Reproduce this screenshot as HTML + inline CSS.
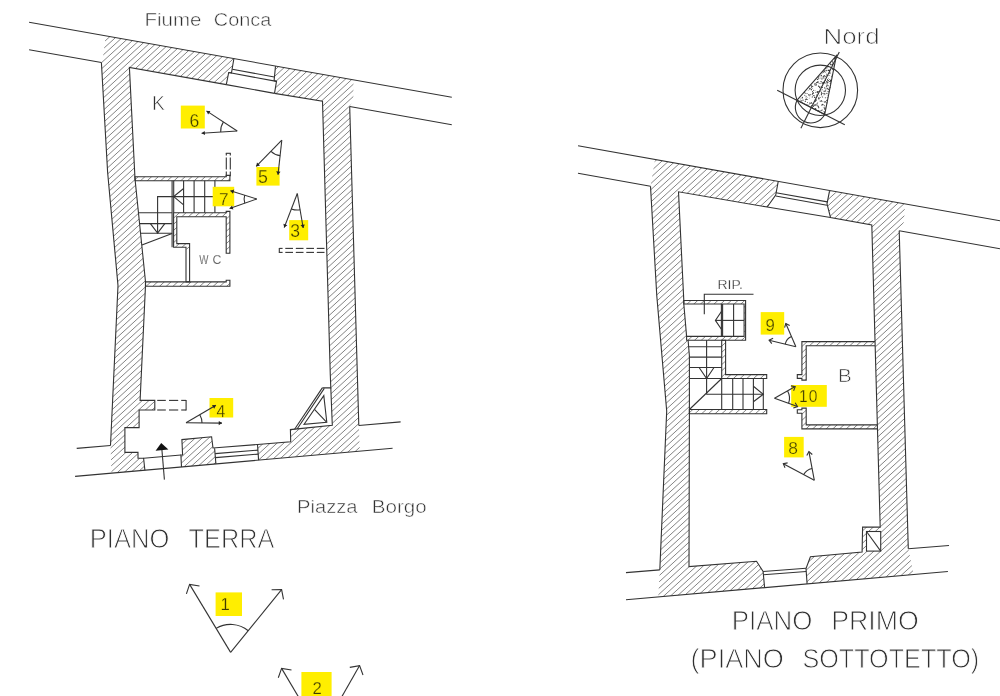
<!DOCTYPE html>
<html lang="it"><head><meta charset="utf-8"><title>Piano Terra / Piano Primo</title>
<style>
html,body{margin:0;padding:0;background:#fff;}
body{width:1000px;height:696px;overflow:hidden;}
svg{display:block;will-change:transform;font-family:"Liberation Sans",sans-serif;}
svg line,svg polyline,svg polygon,svg path{stroke-linecap:butt;stroke-linejoin:miter;}
</style></head><body>
<svg width="1000" height="696" viewBox="0 0 1000 696">
<rect width="1000" height="696" fill="#fff"/>
<clipPath id="c1"><polygon points="105.7,35.9 233.9,58.5 231.5,72.9 228.7,72.5 226.3,84.6 129.4,67.4 134.9,176.7 135.2,180.7 145.5,281.7 145.5,285.6 140.1,400.4 154.8,400.4 154.8,410.0 139.1,410.0 139.1,427.6 124.9,427.6 124.9,452.4 138.0,452.4 138.0,458.3 143.6,458.3 144.9,470.2 111.5,473.2 110.5,445.5 118.0,285.6 107.6,172.0 101.4,62.5 103.0,57.0"/></clipPath>
<path clip-path="url(#c1)" d="M100.40,39.11L105.00,34.90M100.40,45.26L111.72,34.90M100.40,51.41L118.43,34.90M100.40,57.56L125.14,34.90M100.40,63.71L131.86,34.90M100.40,69.86L138.57,34.90M100.40,76.01L145.29,34.90M100.40,82.16L152.00,34.90M100.40,88.31L158.71,34.90M100.40,94.46L165.43,34.90M100.40,100.61L172.14,34.90M100.40,106.76L178.86,34.90M100.40,112.91L185.57,34.90M100.40,119.06L192.28,34.90M100.40,125.21L199.00,34.90M100.40,131.36L205.71,34.90M100.40,137.51L212.43,34.90M100.40,143.66L219.14,34.90M100.40,149.81L225.85,34.90M100.40,155.96L232.57,34.90M100.40,162.11L234.90,38.91M100.40,168.26L234.90,45.06M100.40,174.41L234.90,51.21M100.40,180.56L234.90,57.36M100.40,186.71L234.90,63.51M100.40,192.86L234.90,69.66M100.40,199.01L234.90,75.81M100.40,205.16L234.90,81.96M100.40,211.31L234.90,88.11M100.40,217.46L234.90,94.26M100.40,223.61L234.90,100.41M100.40,229.76L234.90,106.56M100.40,235.91L234.90,112.71M100.40,242.06L234.90,118.86M100.40,248.21L234.90,125.01M100.40,254.36L234.90,131.16M100.40,260.51L234.90,137.31M100.40,266.66L234.90,143.46M100.40,272.81L234.90,149.61M100.40,278.96L234.90,155.76M100.40,285.11L234.90,161.91M100.40,291.26L234.90,168.06M100.40,297.41L234.90,174.21M100.40,303.56L234.90,180.36M100.40,309.71L234.90,186.51M100.40,315.86L234.90,192.66M100.40,322.01L234.90,198.81M100.40,328.16L234.90,204.96M100.40,334.31L234.90,211.11M100.40,340.46L234.90,217.26M100.40,346.61L234.90,223.41M100.40,352.76L234.90,229.56M100.40,358.91L234.90,235.71M100.40,365.06L234.90,241.86M100.40,371.21L234.90,248.01M100.40,377.36L234.90,254.16M100.40,383.51L234.90,260.31M100.40,389.66L234.90,266.46M100.40,395.81L234.90,272.61M100.40,401.96L234.90,278.76M100.40,408.11L234.90,284.91M100.40,414.26L234.90,291.06M100.40,420.41L234.90,297.21M100.40,426.56L234.90,303.36M100.40,432.71L234.90,309.51M100.40,438.86L234.90,315.66M100.40,445.01L234.90,321.81M100.40,451.16L234.90,327.96M100.40,457.31L234.90,334.11M100.40,463.46L234.90,340.26M100.40,469.61L234.90,346.41M102.14,474.17L234.90,352.56M108.86,474.17L234.90,358.71M115.57,474.17L234.90,364.86M122.28,474.17L234.90,371.01M129.00,474.17L234.90,377.16M135.71,474.17L234.90,383.31M142.43,474.17L234.90,389.46M149.14,474.17L234.90,395.61M155.85,474.17L234.90,401.76M162.57,474.17L234.90,407.91M169.28,474.17L234.90,414.06M176.00,474.17L234.90,420.21M182.71,474.17L234.90,426.36M189.42,474.17L234.90,432.51M196.14,474.17L234.90,438.66M202.85,474.17L234.90,444.81M209.57,474.17L234.90,450.96M216.28,474.17L234.90,457.11M222.99,474.17L234.90,463.26M229.71,474.17L234.90,469.41" fill="none" stroke="#6e6e6e" stroke-width="0.85"/>
<clipPath id="c2"><polygon points="275.5,66.1 353.5,79.9 353.3,100.0 349.7,106.5 358.8,425.5 359.8,451.1 258.6,460.1 257.5,444.5 290.7,441.7 290.4,429.6 332.3,425.3 330.8,387.9 330.3,375.0 322.5,101.2 274.5,93.4 276.5,81.4 274.1,80.6"/></clipPath>
<path clip-path="url(#c2)" d="M256.50,68.33L260.02,65.10M256.50,74.48L266.74,65.10M256.50,80.63L273.45,65.10M256.50,86.78L280.16,65.10M256.50,92.93L286.88,65.10M256.50,99.08L293.59,65.10M256.50,105.23L300.31,65.10M256.50,111.38L307.02,65.10M256.50,117.53L313.73,65.10M256.50,123.68L320.45,65.10M256.50,129.83L327.16,65.10M256.50,135.98L333.88,65.10M256.50,142.13L340.59,65.10M256.50,148.28L347.30,65.10M256.50,154.43L354.02,65.10M256.50,160.58L360.73,65.10M256.50,166.73L360.80,71.19M256.50,172.88L360.80,77.34M256.50,179.03L360.80,83.49M256.50,185.18L360.80,89.64M256.50,191.33L360.80,95.79M256.50,197.48L360.80,101.94M256.50,203.63L360.80,108.09M256.50,209.78L360.80,114.24M256.50,215.93L360.80,120.39M256.50,222.08L360.80,126.54M256.50,228.23L360.80,132.69M256.50,234.38L360.80,138.84M256.50,240.53L360.80,144.99M256.50,246.68L360.80,151.14M256.50,252.83L360.80,157.29M256.50,258.98L360.80,163.44M256.50,265.13L360.80,169.59M256.50,271.28L360.80,175.74M256.50,277.43L360.80,181.89M256.50,283.58L360.80,188.04M256.50,289.73L360.80,194.19M256.50,295.88L360.80,200.34M256.50,302.03L360.80,206.49M256.50,308.18L360.80,212.64M256.50,314.33L360.80,218.79M256.50,320.48L360.80,224.94M256.50,326.63L360.80,231.09M256.50,332.78L360.80,237.24M256.50,338.93L360.80,243.39M256.50,345.08L360.80,249.54M256.50,351.23L360.80,255.69M256.50,357.38L360.80,261.84M256.50,363.53L360.80,267.99M256.50,369.68L360.80,274.14M256.50,375.83L360.80,280.29M256.50,381.98L360.80,286.44M256.50,388.13L360.80,292.59M256.50,394.28L360.80,298.74M256.50,400.43L360.80,304.89M256.50,406.58L360.80,311.04M256.50,412.73L360.80,317.19M256.50,418.88L360.80,323.34M256.50,425.03L360.80,329.49M256.50,431.18L360.80,335.64M256.50,437.33L360.80,341.79M256.50,443.48L360.80,347.94M256.50,449.63L360.80,354.09M256.50,455.78L360.80,360.24M257.40,461.11L360.80,366.39M264.11,461.11L360.80,372.54M270.82,461.11L360.80,378.69M277.54,461.11L360.80,384.84M284.25,461.11L360.80,390.99M290.97,461.11L360.80,397.14M297.68,461.11L360.80,403.29M304.39,461.11L360.80,409.44M311.11,461.11L360.80,415.59M317.82,461.11L360.80,421.74M324.54,461.11L360.80,427.89M331.25,461.11L360.80,434.04M337.96,461.11L360.80,440.19M344.68,461.11L360.80,446.34M351.39,461.11L360.80,452.49M358.11,461.11L360.80,458.64" fill="none" stroke="#6e6e6e" stroke-width="0.85"/>
<clipPath id="c3"><polygon points="181.9,439.6 211.6,436.8 213.0,448.0 214.6,448.0 215.9,463.9 181.5,467.0 180.9,455.0 182.6,455.0"/></clipPath>
<path clip-path="url(#c3)" d="M179.90,439.84L184.31,435.80M179.90,445.99L191.03,435.80M179.90,452.14L197.74,435.80M179.90,458.29L204.45,435.80M179.90,464.44L211.17,435.80M182.78,467.95L216.90,436.70M189.50,467.95L216.90,442.85M196.21,467.95L216.90,449.00M202.92,467.95L216.90,455.15M209.64,467.95L216.90,461.30M216.35,467.95L216.90,467.45" fill="none" stroke="#6e6e6e" stroke-width="0.85"/>
<clipPath id="c4"><polygon points="134.9,176.7 226.2,176.7 226.2,175.4 229.9,175.4 229.9,180.8 135.2,180.8"/></clipPath>
<path clip-path="url(#c4)" d="M133.90,174.48L133.98,174.40M133.90,180.63L140.70,174.40M139.33,181.80L147.41,174.40M146.05,181.80L154.13,174.40M152.76,181.80L160.84,174.40M159.48,181.80L167.55,174.40M166.19,181.80L174.27,174.40M172.90,181.80L180.98,174.40M179.62,181.80L187.70,174.40M186.33,181.80L194.41,174.40M193.05,181.80L201.12,174.40M199.76,181.80L207.84,174.40M206.47,181.80L214.55,174.40M213.19,181.80L221.27,174.40M219.90,181.80L227.98,174.40M226.62,181.80L230.90,177.88" fill="none" stroke="#6e6e6e" stroke-width="0.85"/>
<clipPath id="c5"><polygon points="145.5,281.9 226.2,281.9 226.2,280.3 229.9,280.3 229.9,286.2 145.5,286.2"/></clipPath>
<path clip-path="url(#c5)" d="M144.50,281.62L147.03,279.30M145.12,287.20L153.74,279.30M151.83,287.20L160.46,279.30M158.55,287.20L167.17,279.30M165.26,287.20L173.89,279.30M171.98,287.20L180.60,279.30M178.69,287.20L187.31,279.30M185.40,287.20L194.03,279.30M192.12,287.20L200.74,279.30M198.83,287.20L207.46,279.30M205.55,287.20L214.17,279.30M212.26,287.20L220.88,279.30M218.97,287.20L227.60,279.30M225.69,287.20L230.90,282.43" fill="none" stroke="#6e6e6e" stroke-width="0.85"/>
<clipPath id="c6"><polygon points="173.6,212.7 226.2,212.7 226.2,211.4 229.9,211.4 229.9,253.3 226.2,253.3 226.2,216.7 176.8,216.7 176.8,243.6 189.6,243.6 189.6,249.5 186.0,249.5 186.0,247.3 173.6,247.3"/></clipPath>
<path clip-path="url(#c6)" d="M172.60,212.83L175.25,210.40M172.60,218.98L181.97,210.40M172.60,225.13L188.68,210.40M172.60,231.28L195.39,210.40M172.60,237.43L202.11,210.40M172.60,243.58L208.82,210.40M172.60,249.73L215.53,210.40M174.32,254.30L222.25,210.40M181.04,254.30L228.96,210.40M187.75,254.30L230.90,214.78M194.47,254.30L230.90,220.93M201.18,254.30L230.90,227.08M207.89,254.30L230.90,233.23M214.61,254.30L230.90,239.38M221.32,254.30L230.90,245.53M228.03,254.30L230.90,251.68" fill="none" stroke="#6e6e6e" stroke-width="0.85"/>
<line x1="29.1" y1="22.3" x2="451.8" y2="97.3" stroke="#333333" stroke-width="1.1" />
<line x1="29.1" y1="49.7" x2="101.4" y2="62.5" stroke="#333333" stroke-width="1.1" />
<line x1="349.7" y1="106.5" x2="451.8" y2="124.8" stroke="#333333" stroke-width="1.1" />
<line x1="75.1" y1="476.4" x2="392.6" y2="448.2" stroke="#333333" stroke-width="1.1" />
<line x1="110.5" y1="445.5" x2="76.7" y2="448.4" stroke="#333333" stroke-width="1.1" />
<line x1="358.8" y1="425.5" x2="400.6" y2="421.9" stroke="#333333" stroke-width="1.1" />
<polyline points="101.4,62.5 107.6,172.0 118.0,285.6 110.5,445.5" fill="none" stroke="#333333" stroke-width="1.1" />
<polyline points="349.7,106.5 358.8,425.5" fill="none" stroke="#333333" stroke-width="1.1" />
<polyline points="226.3,84.6 129.4,67.4 134.9,176.7 135.2,180.7 145.5,281.7 145.5,285.6 140.1,400.4 154.8,400.4 154.8,410.0 139.1,410.0 139.1,427.6 124.9,427.6 124.9,452.4 138.0,452.4 138.0,458.3 143.6,458.3 144.9,470.2" fill="none" stroke="#333333" stroke-width="1.1" />
<line x1="143.6" y1="458.3" x2="180.9" y2="455.0" stroke="#333333" stroke-width="1.1" />
<polyline points="181.5,467.0 180.9,455.0 182.6,455.0 181.9,439.6 211.6,436.8 213.0,448.0 257.5,444.5 290.7,441.7 290.4,429.6 332.3,425.3 330.8,387.9" fill="none" stroke="#333333" stroke-width="1.1" />
<polyline points="322.3,387.9 330.8,387.9 330.3,375.0 322.5,101.2 274.5,93.4" fill="none" stroke="#333333" stroke-width="1.1" />
<polyline points="233.9,58.5 231.5,72.9 228.7,72.5 226.3,84.6" fill="none" stroke="#333333" stroke-width="1.1" />
<polyline points="275.5,66.1 274.1,80.6 276.5,81.4 274.5,93.4" fill="none" stroke="#333333" stroke-width="1.1" />
<line x1="232.3" y1="69.3" x2="274.3" y2="77.0" stroke="#333333" stroke-width="1.1" />
<line x1="228.7" y1="72.5" x2="276.5" y2="81.4" stroke="#333333" stroke-width="1.1" />
<line x1="226.3" y1="84.6" x2="274.5" y2="93.4" stroke="#333333" stroke-width="1.1" />
<line x1="214.6" y1="448.3" x2="215.9" y2="463.9" stroke="#333333" stroke-width="1.1" />
<line x1="257.5" y1="444.5" x2="258.6" y2="460.1" stroke="#333333" stroke-width="1.1" />
<line x1="215.2" y1="453.6" x2="258.0" y2="450.1" stroke="#333333" stroke-width="1.1" />
<line x1="215.5" y1="457.6" x2="258.3" y2="454.1" stroke="#333333" stroke-width="1.1" />
<line x1="322.3" y1="387.9" x2="294.6" y2="429.3" stroke="#333333" stroke-width="1.1" />
<line x1="324.3" y1="388.4" x2="297.1" y2="429.0" stroke="#333333" stroke-width="1.1" />
<polygon points="323.8,395.6 304.1,424.3 326.8,422.3" fill="none" stroke="#333333" stroke-width="1.1" />
<line x1="314.7" y1="409.7" x2="326.5" y2="422.1" stroke="#333333" stroke-width="1.1" />
<polygon points="134.9,176.7 226.2,176.7 226.2,175.4 229.9,175.4 229.9,180.8 135.2,180.8" fill="none" stroke="#333333" stroke-width="1.1" />
<polygon points="145.5,281.9 226.2,281.9 226.2,280.3 229.9,280.3 229.9,286.2 145.5,286.2" fill="none" stroke="#333333" stroke-width="1.1" />
<polygon points="173.6,212.7 226.2,212.7 226.2,211.4 229.9,211.4 229.9,253.3 226.2,253.3 226.2,216.7 176.8,216.7 176.8,243.6 189.6,243.6 189.6,281.9 186.0,281.9 186.0,247.3 173.6,247.3" fill="none" stroke="#333333" stroke-width="1.1" />
<line x1="226.3" y1="153.3" x2="226.3" y2="155.6" stroke="#333333" stroke-width="1.1" />
<line x1="226.3" y1="157.6" x2="226.3" y2="169.6" stroke="#333333" stroke-width="1.1" />
<line x1="226.3" y1="171.6" x2="226.3" y2="176.2" stroke="#333333" stroke-width="1.1" />
<line x1="230.3" y1="153.3" x2="230.3" y2="155.6" stroke="#333333" stroke-width="1.1" />
<line x1="230.3" y1="157.6" x2="230.3" y2="169.6" stroke="#333333" stroke-width="1.1" />
<line x1="230.3" y1="171.6" x2="230.3" y2="176.2" stroke="#333333" stroke-width="1.1" />
<line x1="225.8" y1="153.3" x2="230.8" y2="153.3" stroke="#333333" stroke-width="1.1" />
<line x1="279.3" y1="248.4" x2="282.6" y2="248.4" stroke="#333333" stroke-width="1.1" />
<line x1="285.3" y1="248.4" x2="293.0" y2="248.4" stroke="#333333" stroke-width="1.1" />
<line x1="295.8" y1="248.4" x2="303.5" y2="248.4" stroke="#333333" stroke-width="1.1" />
<line x1="306.3" y1="248.4" x2="314.0" y2="248.4" stroke="#333333" stroke-width="1.1" />
<line x1="316.8" y1="248.4" x2="324.5" y2="248.4" stroke="#333333" stroke-width="1.1" />
<line x1="279.3" y1="252.4" x2="282.6" y2="252.4" stroke="#333333" stroke-width="1.1" />
<line x1="285.3" y1="252.4" x2="293.0" y2="252.4" stroke="#333333" stroke-width="1.1" />
<line x1="295.8" y1="252.4" x2="303.5" y2="252.4" stroke="#333333" stroke-width="1.1" />
<line x1="306.3" y1="252.4" x2="314.0" y2="252.4" stroke="#333333" stroke-width="1.1" />
<line x1="316.8" y1="252.4" x2="324.5" y2="252.4" stroke="#333333" stroke-width="1.1" />
<line x1="279.3" y1="247.9" x2="279.3" y2="252.9" stroke="#333333" stroke-width="1.1" />
<line x1="157.2" y1="400.4" x2="165.8" y2="400.4" stroke="#333333" stroke-width="1.1" />
<line x1="169.0" y1="400.4" x2="178.2" y2="400.4" stroke="#333333" stroke-width="1.1" />
<line x1="181.2" y1="400.4" x2="186.1" y2="400.4" stroke="#333333" stroke-width="1.1" />
<line x1="157.2" y1="410.0" x2="165.8" y2="410.0" stroke="#333333" stroke-width="1.1" />
<line x1="169.0" y1="410.0" x2="178.2" y2="410.0" stroke="#333333" stroke-width="1.1" />
<line x1="181.2" y1="410.0" x2="186.1" y2="410.0" stroke="#333333" stroke-width="1.1" />
<line x1="186.1" y1="399.9" x2="186.1" y2="410.5" stroke="#333333" stroke-width="1.1" />
<line x1="172.1" y1="180.8" x2="172.1" y2="247.3" stroke="#333333" stroke-width="1.1" />
<line x1="173.7" y1="180.8" x2="173.7" y2="212.7" stroke="#333333" stroke-width="1.1" />
<line x1="183.6" y1="180.8" x2="183.6" y2="212.7" stroke="#333333" stroke-width="1.1" />
<line x1="194.1" y1="180.8" x2="194.1" y2="212.7" stroke="#333333" stroke-width="1.1" />
<line x1="204.7" y1="180.8" x2="204.7" y2="212.7" stroke="#333333" stroke-width="1.1" />
<line x1="214.9" y1="180.8" x2="214.9" y2="212.7" stroke="#333333" stroke-width="1.1" />
<line x1="138.7" y1="212.7" x2="172.1" y2="212.7" stroke="#333333" stroke-width="1.1" />
<line x1="139.8" y1="223.6" x2="172.1" y2="223.6" stroke="#333333" stroke-width="1.1" />
<line x1="140.8" y1="233.2" x2="172.1" y2="233.2" stroke="#333333" stroke-width="1.1" />
<line x1="141.9" y1="245.0" x2="172.1" y2="233.5" stroke="#333333" stroke-width="1.1" />
<polyline points="214.9,196.6 157.6,196.6 157.6,233.2" fill="none" stroke="#333333" stroke-width="1.1" />
<polyline points="183.6,188.5 173.7,196.6 183.6,204.8" fill="none" stroke="#333333" stroke-width="1.1" />
<polyline points="150.4,223.6 157.6,233.2 164.8,223.6" fill="none" stroke="#333333" stroke-width="1.1" />
<line x1="164.4" y1="479.6" x2="161.6" y2="446.0" stroke="#333333" stroke-width="1.1" />
<polygon points="161.2,443.1 155.6,450.8 168.4,449.5" fill="#111"/>
<clipPath id="c7"><polygon points="655.0,159.4 778.2,181.7 775.7,195.0 767.2,207.0 678.5,191.8 683.8,300.5 683.8,304.0 686.6,336.4 686.6,340.3 688.1,340.3 689.4,355.9 689.4,409.5 689.4,413.8 689.0,566.6 756.5,561.2 763.1,571.5 764.6,587.6 658.3,597.0 659.8,569.9 666.7,411.0 656.8,296.0 650.5,186.3"/></clipPath>
<path clip-path="url(#c7)" d="M649.50,160.16L651.38,158.43M649.50,166.31L658.10,158.43M649.50,172.46L664.81,158.43M649.50,178.61L671.53,158.43M649.50,184.76L678.24,158.43M649.50,190.91L684.95,158.43M649.50,197.06L691.67,158.43M649.50,203.21L698.38,158.43M649.50,209.36L705.10,158.43M649.50,215.51L711.81,158.43M649.50,221.66L718.52,158.43M649.50,227.81L725.24,158.43M649.50,233.96L731.95,158.43M649.50,240.11L738.66,158.43M649.50,246.26L745.38,158.43M649.50,252.41L752.09,158.43M649.50,258.56L758.81,158.43M649.50,264.71L765.52,158.43M649.50,270.86L772.23,158.43M649.50,277.01L778.95,158.43M649.50,283.16L779.20,164.35M649.50,289.31L779.20,170.50M649.50,295.46L779.20,176.65M649.50,301.61L779.20,182.80M649.50,307.76L779.20,188.95M649.50,313.91L779.20,195.10M649.50,320.06L779.20,201.25M649.50,326.21L779.20,207.40M649.50,332.36L779.20,213.55M649.50,338.51L779.20,219.70M649.50,344.66L779.20,225.85M649.50,350.81L779.20,232.00M649.50,356.96L779.20,238.15M649.50,363.11L779.20,244.30M649.50,369.26L779.20,250.45M649.50,375.41L779.20,256.60M649.50,381.56L779.20,262.75M649.50,387.71L779.20,268.90M649.50,393.86L779.20,275.05M649.50,400.01L779.20,281.20M649.50,406.16L779.20,287.35M649.50,412.31L779.20,293.50M649.50,418.46L779.20,299.65M649.50,424.61L779.20,305.80M649.50,430.76L779.20,311.95M649.50,436.91L779.20,318.10M649.50,443.06L779.20,324.25M649.50,449.21L779.20,330.40M649.50,455.36L779.20,336.55M649.50,461.51L779.20,342.70M649.50,467.66L779.20,348.85M649.50,473.81L779.20,355.00M649.50,479.96L779.20,361.15M649.50,486.11L779.20,367.30M649.50,492.26L779.20,373.45M649.50,498.41L779.20,379.60M649.50,504.56L779.20,385.75M649.50,510.71L779.20,391.90M649.50,516.86L779.20,398.05M649.50,523.01L779.20,404.20M649.50,529.16L779.20,410.35M649.50,535.31L779.20,416.50M649.50,541.46L779.20,422.65M649.50,547.61L779.20,428.80M649.50,553.76L779.20,434.95M649.50,559.91L779.20,441.10M649.50,566.06L779.20,447.25M649.50,572.21L779.20,453.40M649.50,578.36L779.20,459.55M649.50,584.51L779.20,465.70M649.50,590.66L779.20,471.85M649.50,596.81L779.20,478.00M654.96,597.96L779.20,484.15M661.67,597.96L779.20,490.30M668.38,597.96L779.20,496.45M675.10,597.96L779.20,502.60M681.81,597.96L779.20,508.75M688.53,597.96L779.20,514.90M695.24,597.96L779.20,521.05M701.95,597.96L779.20,527.20M708.67,597.96L779.20,533.35M715.38,597.96L779.20,539.50M722.10,597.96L779.20,545.65M728.81,597.96L779.20,551.80M735.52,597.96L779.20,557.95M742.24,597.96L779.20,564.10M748.95,597.96L779.20,570.25M755.67,597.96L779.20,576.40M762.38,597.96L779.20,582.55M769.09,597.96L779.20,588.70M775.81,597.96L779.20,594.85" fill="none" stroke="#6e6e6e" stroke-width="0.85"/>
<clipPath id="c8"><polygon points="829.5,191.2 905.0,203.9 904.0,222.0 899.2,230.8 908.3,548.8 913.8,574.5 807.1,583.9 806.0,568.6 810.4,556.8 862.1,552.1 862.6,527.1 880.2,527.1 871.8,225.0 830.5,217.5 827.0,203.8"/></clipPath>
<path clip-path="url(#c8)" d="M805.00,196.07L811.35,190.25M805.00,202.22L818.07,190.25M805.00,208.37L824.78,190.25M805.00,214.52L831.50,190.25M805.00,220.67L838.21,190.25M805.00,226.82L844.92,190.25M805.00,232.97L851.64,190.25M805.00,239.12L858.35,190.25M805.00,245.27L865.07,190.25M805.00,251.42L871.78,190.25M805.00,257.57L878.49,190.25M805.00,263.72L885.21,190.25M805.00,269.87L891.92,190.25M805.00,276.02L898.64,190.25M805.00,282.17L905.35,190.25M805.00,288.32L912.06,190.25M805.00,294.47L914.80,193.89M805.00,300.62L914.80,200.04M805.00,306.77L914.80,206.19M805.00,312.92L914.80,212.34M805.00,319.07L914.80,218.49M805.00,325.22L914.80,224.64M805.00,331.37L914.80,230.79M805.00,337.52L914.80,236.94M805.00,343.67L914.80,243.09M805.00,349.82L914.80,249.24M805.00,355.97L914.80,255.39M805.00,362.12L914.80,261.54M805.00,368.27L914.80,267.69M805.00,374.42L914.80,273.84M805.00,380.57L914.80,279.99M805.00,386.72L914.80,286.14M805.00,392.87L914.80,292.29M805.00,399.02L914.80,298.44M805.00,405.17L914.80,304.59M805.00,411.32L914.80,310.74M805.00,417.47L914.80,316.89M805.00,423.62L914.80,323.04M805.00,429.77L914.80,329.19M805.00,435.92L914.80,335.34M805.00,442.07L914.80,341.49M805.00,448.22L914.80,347.64M805.00,454.37L914.80,353.79M805.00,460.52L914.80,359.94M805.00,466.67L914.80,366.09M805.00,472.82L914.80,372.24M805.00,478.97L914.80,378.39M805.00,485.12L914.80,384.54M805.00,491.27L914.80,390.69M805.00,497.42L914.80,396.84M805.00,503.57L914.80,402.99M805.00,509.72L914.80,409.14M805.00,515.87L914.80,415.29M805.00,522.02L914.80,421.44M805.00,528.17L914.80,427.59M805.00,534.32L914.80,433.74M805.00,540.47L914.80,439.89M805.00,546.62L914.80,446.04M805.00,552.77L914.80,452.19M805.00,558.92L914.80,458.34M805.00,565.07L914.80,464.49M805.00,571.22L914.80,470.64M805.00,577.37L914.80,476.79M805.00,583.52L914.80,482.94M810.23,584.88L914.80,489.09M816.94,584.88L914.80,495.24M823.66,584.88L914.80,501.39M830.37,584.88L914.80,507.54M837.08,584.88L914.80,513.69M843.80,584.88L914.80,519.84M850.51,584.88L914.80,525.99M857.23,584.88L914.80,532.14M863.94,584.88L914.80,538.29M870.65,584.88L914.80,544.44M877.37,584.88L914.80,550.59M884.08,584.88L914.80,556.74M890.80,584.88L914.80,562.89M897.51,584.88L914.80,569.04M904.22,584.88L914.80,575.19M910.94,584.88L914.80,581.34" fill="none" stroke="#6e6e6e" stroke-width="0.85"/>
<rect x="866.5" y="531.5" width="14.2" height="19.6" fill="#fff" stroke="#333333" stroke-width="1.1"/>
<line x1="866.5" y1="531.5" x2="880.7" y2="551.1" stroke="#333333" stroke-width="1.1" />
<clipPath id="c9"><polygon points="683.8,300.5 745.6,300.5 745.6,340.3 686.6,340.3 686.6,336.4 744.1,336.4 744.1,304.0 683.8,304.0"/></clipPath>
<path clip-path="url(#c9)" d="M682.80,301.86L685.37,299.50M682.80,308.01L692.09,299.50M682.80,314.16L698.80,299.50M682.80,320.31L705.51,299.50M682.80,326.46L712.23,299.50M682.80,332.61L718.94,299.50M682.80,338.76L725.66,299.50M686.74,341.30L732.37,299.50M693.45,341.30L739.08,299.50M700.16,341.30L745.80,299.50M706.88,341.30L746.60,304.91M713.59,341.30L746.60,311.06M720.31,341.30L746.60,317.21M727.02,341.30L746.60,323.36M733.73,341.30L746.60,329.51M740.45,341.30L746.60,335.66" fill="none" stroke="#6e6e6e" stroke-width="0.85"/>
<clipPath id="c10"><polygon points="721.7,340.3 725.6,340.3 725.6,374.6 766.7,374.6 766.7,378.5 721.7,378.5"/></clipPath>
<path clip-path="url(#c10)" d="M720.70,340.94L722.49,339.30M720.70,347.09L729.20,339.30M720.70,353.24L735.92,339.30M720.70,359.39L742.63,339.30M720.70,365.54L749.34,339.30M720.70,371.69L756.06,339.30M720.70,377.84L762.77,339.30M725.60,379.50L767.70,340.94M732.31,379.50L767.70,347.09M739.03,379.50L767.70,353.24M745.74,379.50L767.70,359.39M752.46,379.50L767.70,365.54M759.17,379.50L767.70,371.69M765.88,379.50L767.70,377.84" fill="none" stroke="#6e6e6e" stroke-width="0.85"/>
<clipPath id="c11"><polygon points="689.4,409.5 766.7,409.5 766.7,413.8 689.4,413.8"/></clipPath>
<path clip-path="url(#c11)" d="M688.40,413.58L693.94,408.50M693.78,414.80L700.66,408.50M700.49,414.80L707.37,408.50M707.21,414.80L714.08,408.50M713.92,414.80L720.80,408.50M720.63,414.80L727.51,408.50M727.35,414.80L734.22,408.50M734.06,414.80L740.94,408.50M740.78,414.80L747.65,408.50M747.49,414.80L754.37,408.50M754.20,414.80L761.08,408.50M760.92,414.80L767.70,408.59M767.63,414.80L767.70,414.74" fill="none" stroke="#6e6e6e" stroke-width="0.85"/>
<clipPath id="c12"><polygon points="801.9,341.6 875.0,341.6 877.3,428.9 801.9,428.9 801.9,413.3 797.3,413.3 797.3,409.8 801.9,409.8 801.9,408.1 806.2,408.1 806.2,424.9 877.1,424.9 875.1,345.7 806.2,345.7 806.2,380.1 801.9,380.1 801.9,378.4 797.3,378.4 797.3,374.6 801.9,374.6"/></clipPath>
<path clip-path="url(#c12)" d="M796.30,345.49L801.64,340.60M796.30,351.64L808.35,340.60M796.30,357.79L815.07,340.60M796.30,363.94L821.78,340.60M796.30,370.09L828.49,340.60M796.30,376.24L835.21,340.60M796.30,382.39L841.92,340.60M796.30,388.54L848.64,340.60M796.30,394.69L855.35,340.60M796.30,400.84L862.06,340.60M796.30,406.99L868.78,340.60M796.30,413.14L875.49,340.60M796.30,419.29L878.30,344.18M796.30,425.44L878.30,350.33M798.14,429.90L878.30,356.48M804.86,429.90L878.30,362.63M811.57,429.90L878.30,368.78M818.29,429.90L878.30,374.93M825.00,429.90L878.30,381.08M831.71,429.90L878.30,387.23M838.43,429.90L878.30,393.38M845.14,429.90L878.30,399.53M851.86,429.90L878.30,405.68M858.57,429.90L878.30,411.83M865.28,429.90L878.30,417.98M872.00,429.90L878.30,424.13" fill="none" stroke="#6e6e6e" stroke-width="0.85"/>
<rect x="797.3" y="374.6" width="4.6" height="3.8" fill="#fff"/>
<rect x="797.3" y="409.8" width="4.6" height="3.5" fill="#fff"/>
<polygon points="683.8,300.5 745.6,300.5 745.6,340.3 686.6,340.3 686.6,336.4 744.1,336.4 744.1,304.0 683.8,304.0" fill="none" stroke="#333333" stroke-width="1.1" />
<polygon points="721.7,340.3 725.6,340.3 725.6,374.6 766.7,374.6 766.7,378.5 721.7,378.5" fill="none" stroke="#333333" stroke-width="1.1" />
<polygon points="689.4,409.5 766.7,409.5 766.7,413.8 689.4,413.8" fill="none" stroke="#333333" stroke-width="1.1" />
<polyline points="875.0,341.6 801.9,341.6 801.9,374.6 797.3,374.6 797.3,378.4 801.9,378.4 801.9,380.1 806.2,380.1 806.2,345.7 875.1,345.7" fill="none" stroke="#333333" stroke-width="1.1" />
<polyline points="877.3,428.9 801.9,428.9 801.9,413.3 797.3,413.3 797.3,409.8 801.9,409.8 801.9,408.1 806.2,408.1 806.2,424.9 877.1,424.9" fill="none" stroke="#333333" stroke-width="1.1" />
<line x1="578.0" y1="145.8" x2="1000.0" y2="220.8" stroke="#333333" stroke-width="1.1" />
<line x1="578.0" y1="173.2" x2="650.5" y2="186.3" stroke="#333333" stroke-width="1.1" />
<line x1="899.2" y1="230.8" x2="1000.0" y2="248.8" stroke="#333333" stroke-width="1.1" />
<line x1="626.0" y1="599.8" x2="947.9" y2="571.5" stroke="#333333" stroke-width="1.1" />
<line x1="659.8" y1="569.9" x2="626.0" y2="572.6" stroke="#333333" stroke-width="1.1" />
<line x1="908.3" y1="548.8" x2="949.0" y2="545.5" stroke="#333333" stroke-width="1.1" />
<polyline points="650.5,186.3 656.8,296.0 666.7,411.0 659.8,569.9" fill="none" stroke="#333333" stroke-width="1.1" />
<polyline points="899.2,230.8 908.3,548.8" fill="none" stroke="#333333" stroke-width="1.1" />
<polyline points="767.2,207.0 678.5,191.8 683.8,300.5 683.8,304.0 686.6,336.4" fill="none" stroke="#333333" stroke-width="1.1" />
<polyline points="688.1,340.3 689.4,355.9 689.4,413.8 689.0,566.6 756.5,561.2 763.1,571.5 764.6,587.6" fill="none" stroke="#333333" stroke-width="1.1" />
<polyline points="807.1,583.9 806.0,568.6 810.4,556.8 862.1,552.1 862.6,527.1 880.2,527.1 871.8,225.0 830.5,217.5 827.0,203.8 829.5,191.2" fill="none" stroke="#333333" stroke-width="1.1" />
<polyline points="778.2,181.7 775.7,195.0 767.2,207.0" fill="none" stroke="#333333" stroke-width="1.1" />
<line x1="776.0" y1="192.8" x2="827.4" y2="201.9" stroke="#333333" stroke-width="1.1" />
<line x1="775.7" y1="196.0" x2="827.0" y2="205.2" stroke="#333333" stroke-width="1.1" />
<line x1="767.2" y1="207.0" x2="830.5" y2="217.5" stroke="#333333" stroke-width="1.1" />
<line x1="763.1" y1="571.5" x2="806.0" y2="568.2" stroke="#333333" stroke-width="1.1" />
<line x1="763.4" y1="574.8" x2="806.2" y2="571.5" stroke="#333333" stroke-width="1.1" />
<line x1="721.4" y1="304.0" x2="721.4" y2="336.4" stroke="#333333" stroke-width="1.1" />
<line x1="722.6" y1="304.0" x2="722.6" y2="336.4" stroke="#333333" stroke-width="1.1" />
<line x1="733.6" y1="304.0" x2="733.6" y2="336.4" stroke="#333333" stroke-width="1.1" />
<line x1="715.4" y1="320.4" x2="744.1" y2="320.4" stroke="#333333" stroke-width="1.1" />
<polyline points="721.4,311.5 715.4,320.4 721.4,329.2" fill="none" stroke="#333333" stroke-width="1.1" />
<polyline points="753.5,294.2 704.3,294.2 704.3,314.3" fill="none" stroke="#333333" stroke-width="1.1" />
<line x1="706.6" y1="340.3" x2="706.6" y2="394.4" stroke="#333333" stroke-width="1.1" />
<line x1="688.6" y1="346.8" x2="721.7" y2="346.8" stroke="#333333" stroke-width="1.1" />
<line x1="689.4" y1="357.1" x2="721.7" y2="357.1" stroke="#333333" stroke-width="1.1" />
<line x1="689.4" y1="367.5" x2="721.7" y2="367.5" stroke="#333333" stroke-width="1.1" />
<line x1="689.4" y1="378.5" x2="721.7" y2="378.5" stroke="#333333" stroke-width="1.1" />
<polyline points="699.1,367.5 706.6,378.5 714.0,367.5" fill="none" stroke="#333333" stroke-width="1.1" />
<line x1="689.4" y1="409.5" x2="721.7" y2="378.5" stroke="#333333" stroke-width="1.1" />
<line x1="706.6" y1="394.3" x2="763.3" y2="394.3" stroke="#333333" stroke-width="1.1" />
<line x1="721.7" y1="378.5" x2="721.7" y2="409.5" stroke="#333333" stroke-width="1.1" />
<line x1="732.7" y1="378.5" x2="732.7" y2="409.5" stroke="#333333" stroke-width="1.1" />
<line x1="743.0" y1="378.5" x2="743.0" y2="409.5" stroke="#333333" stroke-width="1.1" />
<line x1="753.4" y1="378.5" x2="753.4" y2="409.5" stroke="#333333" stroke-width="1.1" />
<line x1="763.3" y1="378.5" x2="763.3" y2="409.5" stroke="#333333" stroke-width="1.1" />
<polyline points="753.4,386.2 763.3,394.3 753.4,401.8" fill="none" stroke="#333333" stroke-width="1.1" />
<circle cx="820.3" cy="90.3" r="37.3" fill="none" stroke="#333333" stroke-width="1.1"/>
<circle cx="820.3" cy="90.3" r="25.2" fill="none" stroke="#333333" stroke-width="1.1"/>
<g fill="#2a2a2a"><circle cx="821.9" cy="79.0" r="0.6"/><circle cx="824.9" cy="106.1" r="0.4"/><circle cx="821.3" cy="75.4" r="0.6"/><circle cx="827.0" cy="70.3" r="0.5"/><circle cx="832.6" cy="64.1" r="0.5"/><circle cx="827.5" cy="91.6" r="0.4"/><circle cx="817.0" cy="96.7" r="0.4"/><circle cx="809.1" cy="104.7" r="0.4"/><circle cx="824.5" cy="108.3" r="0.5"/><circle cx="813.6" cy="106.1" r="0.6"/><circle cx="807.1" cy="97.3" r="0.4"/><circle cx="825.7" cy="93.9" r="0.4"/><circle cx="815.4" cy="104.5" r="0.4"/><circle cx="814.8" cy="97.5" r="0.5"/><circle cx="817.1" cy="103.6" r="0.5"/><circle cx="814.5" cy="84.0" r="0.5"/><circle cx="806.5" cy="99.0" r="0.6"/><circle cx="804.8" cy="95.2" r="0.5"/><circle cx="816.3" cy="84.2" r="0.6"/><circle cx="810.2" cy="103.2" r="0.4"/><circle cx="826.9" cy="85.5" r="0.5"/><circle cx="824.7" cy="91.2" r="0.4"/><circle cx="824.1" cy="111.6" r="0.6"/><circle cx="818.2" cy="82.0" r="0.5"/><circle cx="818.9" cy="91.4" r="0.5"/><circle cx="813.5" cy="106.4" r="0.4"/><circle cx="828.1" cy="89.1" r="0.6"/><circle cx="825.3" cy="101.6" r="0.5"/><circle cx="822.5" cy="71.8" r="0.5"/><circle cx="820.7" cy="91.0" r="0.6"/><circle cx="810.0" cy="88.2" r="0.5"/><circle cx="828.4" cy="70.1" r="0.4"/><circle cx="824.5" cy="82.3" r="0.6"/><circle cx="822.1" cy="89.7" r="0.5"/><circle cx="828.0" cy="85.7" r="0.6"/><circle cx="823.9" cy="76.1" r="0.5"/><circle cx="822.6" cy="104.2" r="0.5"/><circle cx="832.2" cy="75.0" r="0.5"/><circle cx="824.8" cy="107.5" r="0.4"/><circle cx="822.7" cy="101.2" r="0.4"/><circle cx="811.4" cy="102.8" r="0.5"/><circle cx="823.6" cy="76.8" r="0.6"/><circle cx="815.3" cy="105.4" r="0.4"/><circle cx="818.6" cy="98.0" r="0.6"/><circle cx="819.8" cy="86.4" r="0.5"/><circle cx="829.9" cy="73.1" r="0.6"/><circle cx="821.3" cy="100.4" r="0.5"/><circle cx="815.3" cy="101.6" r="0.5"/><circle cx="833.2" cy="62.4" r="0.4"/><circle cx="817.8" cy="81.8" r="0.6"/><circle cx="834.3" cy="58.1" r="0.4"/><circle cx="817.6" cy="79.3" r="0.6"/><circle cx="825.2" cy="108.2" r="0.6"/><circle cx="807.6" cy="105.0" r="0.5"/><circle cx="814.6" cy="104.3" r="0.4"/><circle cx="830.4" cy="62.8" r="0.5"/><circle cx="813.9" cy="95.4" r="0.4"/><circle cx="828.4" cy="80.4" r="0.5"/><circle cx="812.3" cy="97.0" r="0.6"/><circle cx="824.4" cy="112.6" r="0.6"/><circle cx="807.7" cy="102.3" r="0.4"/><circle cx="818.7" cy="107.7" r="0.6"/><circle cx="827.5" cy="79.6" r="0.5"/><circle cx="816.4" cy="82.5" r="0.5"/><circle cx="822.0" cy="93.3" r="0.6"/><circle cx="820.8" cy="83.5" r="0.4"/><circle cx="826.7" cy="75.0" r="0.6"/><circle cx="819.3" cy="111.5" r="0.5"/><circle cx="822.1" cy="73.2" r="0.4"/><circle cx="822.0" cy="96.1" r="0.4"/><circle cx="823.8" cy="71.9" r="0.5"/><circle cx="825.6" cy="80.5" r="0.5"/><circle cx="827.2" cy="95.1" r="0.4"/><circle cx="826.9" cy="87.9" r="0.5"/><circle cx="821.1" cy="101.5" r="0.6"/><circle cx="824.0" cy="93.4" r="0.6"/><circle cx="815.4" cy="108.8" r="0.6"/><circle cx="827.1" cy="83.9" r="0.6"/><circle cx="820.5" cy="97.5" r="0.4"/><circle cx="809.9" cy="102.3" r="0.4"/><circle cx="828.2" cy="66.2" r="0.5"/><circle cx="812.3" cy="94.7" r="0.4"/><circle cx="805.9" cy="97.9" r="0.4"/><circle cx="828.4" cy="91.7" r="0.5"/><circle cx="803.0" cy="100.2" r="0.6"/><circle cx="831.6" cy="76.7" r="0.5"/><circle cx="823.9" cy="94.9" r="0.4"/><circle cx="824.5" cy="113.4" r="0.6"/><circle cx="823.6" cy="104.3" r="0.4"/><circle cx="812.6" cy="88.4" r="0.4"/><circle cx="832.8" cy="69.5" r="0.6"/><circle cx="820.1" cy="100.9" r="0.5"/><circle cx="816.6" cy="85.7" r="0.4"/><circle cx="825.3" cy="97.7" r="0.5"/><circle cx="821.0" cy="81.6" r="0.6"/><circle cx="812.7" cy="86.3" r="0.6"/><circle cx="829.5" cy="70.4" r="0.6"/><circle cx="830.5" cy="82.4" r="0.4"/><circle cx="818.4" cy="86.3" r="0.4"/><circle cx="824.1" cy="91.2" r="0.6"/><circle cx="830.9" cy="64.7" r="0.6"/><circle cx="812.3" cy="103.3" r="0.4"/><circle cx="801.0" cy="98.3" r="0.4"/><circle cx="805.3" cy="101.3" r="0.6"/><circle cx="818.3" cy="77.5" r="0.4"/><circle cx="810.0" cy="103.3" r="0.6"/><circle cx="810.2" cy="94.4" r="0.5"/><circle cx="812.4" cy="107.2" r="0.5"/><circle cx="813.5" cy="92.9" r="0.6"/><circle cx="830.9" cy="64.6" r="0.5"/><circle cx="832.1" cy="65.4" r="0.4"/><circle cx="801.8" cy="101.1" r="0.4"/><circle cx="817.3" cy="91.7" r="0.6"/><circle cx="826.1" cy="70.7" r="0.6"/><circle cx="823.1" cy="76.4" r="0.4"/><circle cx="829.9" cy="79.4" r="0.5"/><circle cx="801.3" cy="100.7" r="0.5"/><circle cx="805.2" cy="93.2" r="0.5"/><circle cx="822.1" cy="110.0" r="0.6"/><circle cx="801.8" cy="102.2" r="0.5"/><circle cx="829.2" cy="91.0" r="0.5"/><circle cx="825.0" cy="83.1" r="0.6"/><circle cx="818.1" cy="91.9" r="0.5"/><circle cx="818.9" cy="76.4" r="0.5"/><circle cx="812.6" cy="96.1" r="0.4"/><circle cx="800.6" cy="100.0" r="0.4"/><circle cx="824.8" cy="109.6" r="0.5"/><circle cx="806.7" cy="93.6" r="0.4"/><circle cx="824.3" cy="75.4" r="0.5"/><circle cx="826.7" cy="81.4" r="0.5"/><circle cx="814.2" cy="105.3" r="0.6"/><circle cx="816.0" cy="92.4" r="0.4"/><circle cx="805.7" cy="99.6" r="0.4"/><circle cx="818.8" cy="78.9" r="0.4"/><circle cx="819.7" cy="83.6" r="0.4"/><circle cx="809.9" cy="95.8" r="0.5"/><circle cx="824.6" cy="93.9" r="0.5"/><circle cx="829.4" cy="90.2" r="0.5"/><circle cx="811.5" cy="85.9" r="0.6"/><circle cx="825.7" cy="72.7" r="0.4"/><circle cx="824.0" cy="78.0" r="0.5"/><circle cx="816.3" cy="99.8" r="0.4"/><circle cx="819.2" cy="98.0" r="0.4"/><circle cx="805.4" cy="99.7" r="0.5"/><circle cx="834.7" cy="58.4" r="0.6"/><circle cx="812.5" cy="91.4" r="0.5"/><circle cx="821.5" cy="92.9" r="0.6"/><circle cx="822.6" cy="97.1" r="0.5"/><circle cx="817.3" cy="82.5" r="0.6"/><circle cx="821.8" cy="82.0" r="0.4"/><circle cx="808.6" cy="94.8" r="0.6"/><circle cx="806.1" cy="96.3" r="0.5"/><circle cx="833.8" cy="66.1" r="0.4"/><circle cx="825.0" cy="102.4" r="0.5"/><circle cx="818.8" cy="78.1" r="0.6"/><circle cx="828.6" cy="70.4" r="0.6"/><circle cx="830.6" cy="80.6" r="0.6"/><circle cx="819.5" cy="95.8" r="0.4"/><circle cx="825.8" cy="67.9" r="0.5"/><circle cx="834.6" cy="59.0" r="0.6"/><circle cx="823.3" cy="72.1" r="0.5"/><circle cx="825.7" cy="76.2" r="0.5"/><circle cx="815.8" cy="100.6" r="0.6"/><circle cx="807.7" cy="99.5" r="0.4"/><circle cx="823.3" cy="107.8" r="0.4"/><circle cx="820.2" cy="75.9" r="0.4"/><circle cx="817.3" cy="106.1" r="0.4"/><circle cx="814.6" cy="101.8" r="0.4"/><circle cx="819.6" cy="87.6" r="0.6"/><circle cx="817.3" cy="92.2" r="0.5"/><circle cx="822.1" cy="104.9" r="0.6"/><circle cx="821.1" cy="110.6" r="0.6"/><circle cx="827.8" cy="82.4" r="0.6"/><circle cx="818.9" cy="98.1" r="0.6"/><circle cx="821.6" cy="92.1" r="0.4"/><circle cx="824.7" cy="87.9" r="0.6"/><circle cx="820.3" cy="87.8" r="0.4"/><circle cx="832.6" cy="61.9" r="0.6"/><circle cx="821.0" cy="77.9" r="0.5"/><circle cx="814.7" cy="97.2" r="0.6"/><circle cx="812.7" cy="93.7" r="0.5"/><circle cx="826.9" cy="102.8" r="0.6"/><circle cx="832.6" cy="64.7" r="0.4"/><circle cx="809.7" cy="88.9" r="0.6"/><circle cx="813.5" cy="90.3" r="0.5"/><circle cx="818.3" cy="110.6" r="0.4"/><circle cx="825.9" cy="68.7" r="0.5"/><circle cx="802.3" cy="97.8" r="0.6"/><circle cx="824.6" cy="71.2" r="0.6"/><circle cx="810.2" cy="88.9" r="0.4"/><circle cx="815.7" cy="108.8" r="0.6"/><circle cx="817.8" cy="102.6" r="0.4"/><circle cx="811.8" cy="105.7" r="0.6"/><circle cx="829.9" cy="72.9" r="0.5"/><circle cx="818.9" cy="99.0" r="0.5"/><circle cx="812.7" cy="93.2" r="0.6"/><circle cx="804.7" cy="92.6" r="0.5"/><circle cx="830.3" cy="83.5" r="0.6"/><circle cx="828.7" cy="89.5" r="0.5"/><circle cx="811.3" cy="87.9" r="0.4"/><circle cx="832.4" cy="64.3" r="0.6"/><circle cx="817.1" cy="79.7" r="0.4"/><circle cx="816.5" cy="95.0" r="0.5"/><circle cx="828.5" cy="78.2" r="0.4"/><circle cx="815.2" cy="85.3" r="0.5"/><circle cx="835.4" cy="57.0" r="0.5"/><circle cx="816.9" cy="104.8" r="0.6"/><circle cx="826.8" cy="82.2" r="0.5"/><circle cx="827.8" cy="80.6" r="0.5"/><circle cx="824.7" cy="76.3" r="0.4"/><circle cx="824.6" cy="105.7" r="0.4"/><circle cx="824.2" cy="101.8" r="0.5"/><circle cx="829.3" cy="81.5" r="0.6"/><circle cx="799.2" cy="101.2" r="0.5"/><circle cx="822.3" cy="104.5" r="0.4"/><circle cx="821.5" cy="105.1" r="0.4"/><circle cx="823.5" cy="82.4" r="0.6"/><circle cx="806.8" cy="99.5" r="0.5"/><circle cx="829.7" cy="71.9" r="0.6"/><circle cx="811.4" cy="89.7" r="0.6"/><circle cx="815.4" cy="92.2" r="0.4"/><circle cx="826.9" cy="93.3" r="0.6"/><circle cx="822.5" cy="87.6" r="0.5"/><circle cx="815.2" cy="83.8" r="0.6"/><circle cx="825.9" cy="89.1" r="0.5"/><circle cx="822.3" cy="83.3" r="0.6"/><circle cx="826.8" cy="100.3" r="0.6"/><circle cx="821.4" cy="94.7" r="0.6"/><circle cx="818.9" cy="83.1" r="0.4"/><circle cx="827.6" cy="88.5" r="0.5"/><circle cx="812.3" cy="107.9" r="0.5"/><circle cx="829.8" cy="88.2" r="0.4"/><circle cx="812.0" cy="94.4" r="0.4"/><circle cx="821.9" cy="76.3" r="0.4"/><circle cx="809.3" cy="95.0" r="0.4"/><circle cx="829.0" cy="75.4" r="0.5"/><circle cx="809.2" cy="98.1" r="0.4"/><circle cx="817.6" cy="92.4" r="0.4"/><circle cx="811.7" cy="103.1" r="0.5"/><circle cx="825.6" cy="90.9" r="0.6"/><circle cx="826.4" cy="73.9" r="0.4"/><circle cx="822.8" cy="82.4" r="0.5"/><circle cx="815.8" cy="104.9" r="0.5"/><circle cx="829.0" cy="69.9" r="0.4"/><circle cx="826.4" cy="86.4" r="0.5"/><circle cx="829.2" cy="87.1" r="0.4"/><circle cx="811.6" cy="87.1" r="0.6"/><circle cx="830.4" cy="63.8" r="0.4"/><circle cx="818.8" cy="111.0" r="0.4"/><circle cx="813.9" cy="95.6" r="0.6"/><circle cx="822.9" cy="78.0" r="0.5"/><circle cx="824.0" cy="105.2" r="0.4"/><circle cx="818.9" cy="110.5" r="0.4"/><circle cx="807.5" cy="102.3" r="0.4"/><circle cx="816.2" cy="100.1" r="0.5"/><circle cx="807.6" cy="93.4" r="0.4"/><circle cx="808.2" cy="90.2" r="0.4"/><circle cx="818.5" cy="86.1" r="0.6"/><circle cx="830.1" cy="87.4" r="0.5"/><circle cx="821.7" cy="86.7" r="0.4"/><circle cx="815.0" cy="90.7" r="0.4"/><circle cx="830.4" cy="81.2" r="0.6"/><circle cx="824.1" cy="70.7" r="0.5"/><circle cx="827.7" cy="81.6" r="0.4"/><circle cx="818.5" cy="106.4" r="0.5"/><circle cx="827.1" cy="67.8" r="0.5"/><circle cx="817.9" cy="105.7" r="0.5"/><circle cx="819.3" cy="111.4" r="0.6"/><circle cx="802.4" cy="97.3" r="0.5"/><circle cx="827.2" cy="97.5" r="0.4"/></g>
<polygon points="836.4,55.7 797.1,100.2 824.7,114.5" fill="none" stroke="#333333" stroke-width="1.1" stroke-linejoin="round"/>
<line x1="839.3" y1="51.9" x2="800.9" y2="128.3" stroke="#333333" stroke-width="1.1" />
<line x1="777.2" y1="90.3" x2="844.8" y2="124.7" stroke="#333333" stroke-width="1.1" />
<path d="M797.1,100.2 A15.5,15.5 0 0 0 824.7,114.5" fill="none" stroke="#333333" stroke-width="1.1"/>
<rect x="180.8" y="105.6" width="24.0" height="22.9" fill="#ffee00"/>
<rect x="256.4" y="167" width="23.2" height="18.6" fill="#ffee00"/>
<rect x="212.7" y="186.8" width="21.5" height="19.5" fill="#ffee00"/>
<rect x="289.2" y="220.1" width="19.0" height="20.2" fill="#ffee00"/>
<rect x="209.5" y="398" width="23.7" height="19.5" fill="#ffee00"/>
<rect x="215.6" y="592.4" width="26.4" height="23.6" fill="#ffee00"/>
<rect x="301.4" y="672" width="30.2" height="24.0" fill="#ffee00"/>
<rect x="760.7" y="312.1" width="23.5" height="22.5" fill="#ffee00"/>
<rect x="791.2" y="385" width="35.6" height="21.8" fill="#ffee00"/>
<rect x="784.1" y="436.9" width="19.6" height="20.5" fill="#ffee00"/>
<line x1="237.2" y1="131.0" x2="206.5" y2="110.9" stroke="#333333" stroke-width="1.1" />
<polygon points="206.5,110.9 208.1,114.5 210.4,110.9" fill="#222"/>
<line x1="237.2" y1="131.0" x2="201.6" y2="133.2" stroke="#333333" stroke-width="1.1" />
<polygon points="201.6,133.2 205.0,135.1 204.7,130.9" fill="#222"/>
<path d="M223.4,122.0 A16.5,16.5 0 0 0 220.7,132.0" fill="none" stroke="#333333" stroke-width="1.1"/>
<line x1="281.8" y1="140.2" x2="256.2" y2="166.4" stroke="#333333" stroke-width="1.1" />
<polygon points="256.2,166.4 260.0,165.6 257.0,162.6" fill="#222"/>
<line x1="281.8" y1="140.2" x2="278.0" y2="174.7" stroke="#333333" stroke-width="1.1" />
<polygon points="278.0,174.7 280.5,171.7 276.2,171.2" fill="#222"/>
<path d="M271.0,151.3 A15.5,15.5 0 0 0 280.1,155.6" fill="none" stroke="#333333" stroke-width="1.1"/>
<line x1="256.8" y1="199.0" x2="230.4" y2="190.7" stroke="#333333" stroke-width="1.1" />
<polygon points="230.4,190.7 232.9,193.7 234.2,189.6" fill="#222"/>
<line x1="256.8" y1="199.0" x2="229.6" y2="208.6" stroke="#333333" stroke-width="1.1" />
<polygon points="229.6,208.6 233.4,209.5 232.0,205.5" fill="#222"/>
<path d="M244.7,195.2 A12.7,12.7 0 0 0 244.8,203.2" fill="none" stroke="#333333" stroke-width="1.1"/>
<line x1="297.3" y1="193.5" x2="284.2" y2="227.6" stroke="#333333" stroke-width="1.1" />
<polygon points="284.2,227.6 287.4,225.3 283.4,223.8" fill="#222"/>
<line x1="297.3" y1="193.5" x2="303.2" y2="228.0" stroke="#333333" stroke-width="1.1" />
<polygon points="303.2,228.0 304.8,224.4 300.5,225.1" fill="#222"/>
<path d="M291.4,208.9 A16.5,16.5 0 0 0 300.1,209.8" fill="none" stroke="#333333" stroke-width="1.1"/>
<line x1="186.0" y1="422.8" x2="222.0" y2="423.1" stroke="#333333" stroke-width="1.1" />
<polygon points="222.0,423.1 218.8,420.9 218.7,425.2" fill="#222"/>
<line x1="186.0" y1="422.8" x2="215.9" y2="405.2" stroke="#333333" stroke-width="1.1" />
<polygon points="215.9,405.2 212.0,405.0 214.2,408.7" fill="#222"/>
<path d="M202.0,422.9 A16,16 0 0 0 199.8,414.7" fill="none" stroke="#333333" stroke-width="1.1"/>
<line x1="230.6" y1="652.4" x2="189.6" y2="584.4" stroke="#333333" stroke-width="1.1" />
<polyline points="186.4,593.9 189.6,584.4 199.5,586.0" fill="none" stroke="#333333" stroke-width="1.1" />
<line x1="230.6" y1="652.4" x2="281.6" y2="589.6" stroke="#333333" stroke-width="1.1" />
<polyline points="271.6,589.8 281.6,589.6 283.5,599.4" fill="none" stroke="#333333" stroke-width="1.1" />
<path d="M216.1,628.4 A28,28 0 0 1 248.3,630.7" fill="none" stroke="#333333" stroke-width="1.1"/>
<line x1="320.5" y1="734.0" x2="281.6" y2="668.4" stroke="#333333" stroke-width="1.1" />
<polyline points="278.3,677.8 281.6,668.4 291.5,670.0" fill="none" stroke="#333333" stroke-width="1.1" />
<line x1="320.5" y1="734.0" x2="359.6" y2="665.6" stroke="#333333" stroke-width="1.1" />
<polyline points="349.8,667.4 359.6,665.6 363.0,675.0" fill="none" stroke="#333333" stroke-width="1.1" />
<path d="M306.2,709.9 A28,28 0 0 1 334.4,709.7" fill="none" stroke="#333333" stroke-width="1.1"/>
<line x1="795.9" y1="346.7" x2="785.8" y2="323.5" stroke="#333333" stroke-width="1.1" />
<polyline points="784.6,327.7 785.8,323.5 789.7,325.5" fill="none" stroke="#333333" stroke-width="1.1" />
<line x1="795.9" y1="346.7" x2="769.1" y2="340.2" stroke="#333333" stroke-width="1.1" />
<polyline points="771.8,343.7 769.1,340.2 773.1,338.3" fill="none" stroke="#333333" stroke-width="1.1" />
<path d="M791.5,336.6 A11,11 0 0 0 785.2,344.1" fill="none" stroke="#333333" stroke-width="1.1"/>
<line x1="774.5" y1="398.2" x2="795.2" y2="386.6" stroke="#333333" stroke-width="1.1" />
<polyline points="790.9,385.9 795.2,386.6 793.6,390.7" fill="none" stroke="#333333" stroke-width="1.1" />
<line x1="774.5" y1="398.2" x2="797.5" y2="406.6" stroke="#333333" stroke-width="1.1" />
<polyline points="795.2,402.8 797.5,406.6 793.3,408.0" fill="none" stroke="#333333" stroke-width="1.1" />
<path d="M787.6,390.9 A15,15 0 0 1 788.6,403.3" fill="none" stroke="#333333" stroke-width="1.1"/>
<line x1="814.3" y1="480.3" x2="808.9" y2="451.6" stroke="#333333" stroke-width="1.1" />
<polyline points="806.8,455.5 808.9,451.6 812.3,454.5" fill="none" stroke="#333333" stroke-width="1.1" />
<line x1="814.3" y1="480.3" x2="783.3" y2="463.7" stroke="#333333" stroke-width="1.1" />
<polyline points="785.0,467.8 783.3,463.7 787.6,462.9" fill="none" stroke="#333333" stroke-width="1.1" />
<path d="M812.1,468.5 A12,12 0 0 0 803.7,474.6" fill="none" stroke="#333333" stroke-width="1.1"/>
<text x="189.5" y="127.2" font-size="17.6" fill="#403c00" stroke="#ffee00" stroke-width="0.25">6</text>
<text x="258.1" y="182.6" font-size="17.8" fill="#403c00" stroke="#ffee00" stroke-width="0.25">5</text>
<text x="219.0" y="205.2" font-size="17.4" fill="#403c00" stroke="#ffee00" stroke-width="0.25">7</text>
<text x="290.2" y="236.8" font-size="17.6" fill="#403c00" stroke="#ffee00" stroke-width="0.25">3</text>
<text x="216.6" y="416.5" font-size="15.8" fill="#403c00" stroke="#ffee00" stroke-width="0.25">4</text>
<text x="220.6" y="610" font-size="16.8" fill="#403c00" stroke="#ffee00" stroke-width="0.25">1</text>
<text x="312.6" y="694" font-size="16.8" fill="#403c00" stroke="#ffee00" stroke-width="0.25">2</text>
<text x="765.6" y="330.6" font-size="16.8" fill="#403c00" stroke="#ffee00" stroke-width="0.25">9</text>
<text x="798.9" y="401.8" font-size="15.6" fill="#403c00" stroke="#ffee00" stroke-width="0.25" letter-spacing="1.3">10</text>
<text x="788.3" y="454.0" font-size="17.4" fill="#403c00" stroke="#ffee00" stroke-width="0.25">8</text>
<g opacity="0.999">
<text x="144.5" y="26.4" font-size="18.4" textLength="57" lengthAdjust="spacingAndGlyphs" fill="#303030" stroke="#fff" stroke-width="0.5">Fiume</text>
<text x="213.8" y="26.4" font-size="18.4" textLength="57.5" lengthAdjust="spacingAndGlyphs" fill="#303030" stroke="#fff" stroke-width="0.5">Conca</text>
<text x="297" y="513.1" font-size="18.2" textLength="60.5" lengthAdjust="spacingAndGlyphs" fill="#303030" stroke="#fff" stroke-width="0.5">Piazza</text>
<text x="371.8" y="513.1" font-size="18.2" textLength="55" lengthAdjust="spacingAndGlyphs" fill="#303030" stroke="#fff" stroke-width="0.5">Borgo</text>
<text x="89.8" y="548" font-size="27.2" textLength="79.6" lengthAdjust="spacingAndGlyphs" fill="#303030" stroke="#fff" stroke-width="0.9">PIANO</text>
<text x="188.6" y="548" font-size="27.2" textLength="85.8" lengthAdjust="spacingAndGlyphs" fill="#303030" stroke="#fff" stroke-width="0.9">TERRA</text>
<text x="731.8" y="629.6" font-size="27.6" textLength="80.6" lengthAdjust="spacingAndGlyphs" fill="#303030" stroke="#fff" stroke-width="0.9">PIANO</text>
<text x="831.2" y="629.6" font-size="27.6" textLength="87.6" lengthAdjust="spacingAndGlyphs" fill="#303030" stroke="#fff" stroke-width="0.9">PRIMO</text>
<text x="690.6" y="668" font-size="27.4" textLength="93.3" lengthAdjust="spacingAndGlyphs" fill="#303030" stroke="#fff" stroke-width="0.9">(PIANO</text>
<text x="802.4" y="668" font-size="27.4" textLength="176.8" lengthAdjust="spacingAndGlyphs" fill="#303030" stroke="#fff" stroke-width="0.9">SOTTOTETTO)</text>
<text x="823.6" y="43.6" font-size="21.6" textLength="55.9" lengthAdjust="spacingAndGlyphs" fill="#303030" stroke="#fff" stroke-width="0.7">Nord</text>
<text x="152" y="109.6" font-size="19.4" textLength="12.8" lengthAdjust="spacingAndGlyphs" fill="#303030" stroke="#fff" stroke-width="0.6">K</text>
<text x="837.9" y="381.5" font-size="18.3" textLength="13.8" lengthAdjust="spacingAndGlyphs" fill="#303030" stroke="#fff" stroke-width="0.6">B</text>
<text x="199.2" y="264.2" font-size="12.6" textLength="9.2" lengthAdjust="spacingAndGlyphs" fill="#303030" stroke="#fff" stroke-width="0.25">W</text>
<text x="212.6" y="264.2" font-size="12.6" textLength="9" lengthAdjust="spacingAndGlyphs" fill="#303030" stroke="#fff" stroke-width="0.25">C</text>
<text x="717.5" y="288.8" font-size="12.2" textLength="25.3" lengthAdjust="spacingAndGlyphs" fill="#303030" stroke="#fff" stroke-width="0.25">RIP.</text>
</g>
</svg>
</body></html>
